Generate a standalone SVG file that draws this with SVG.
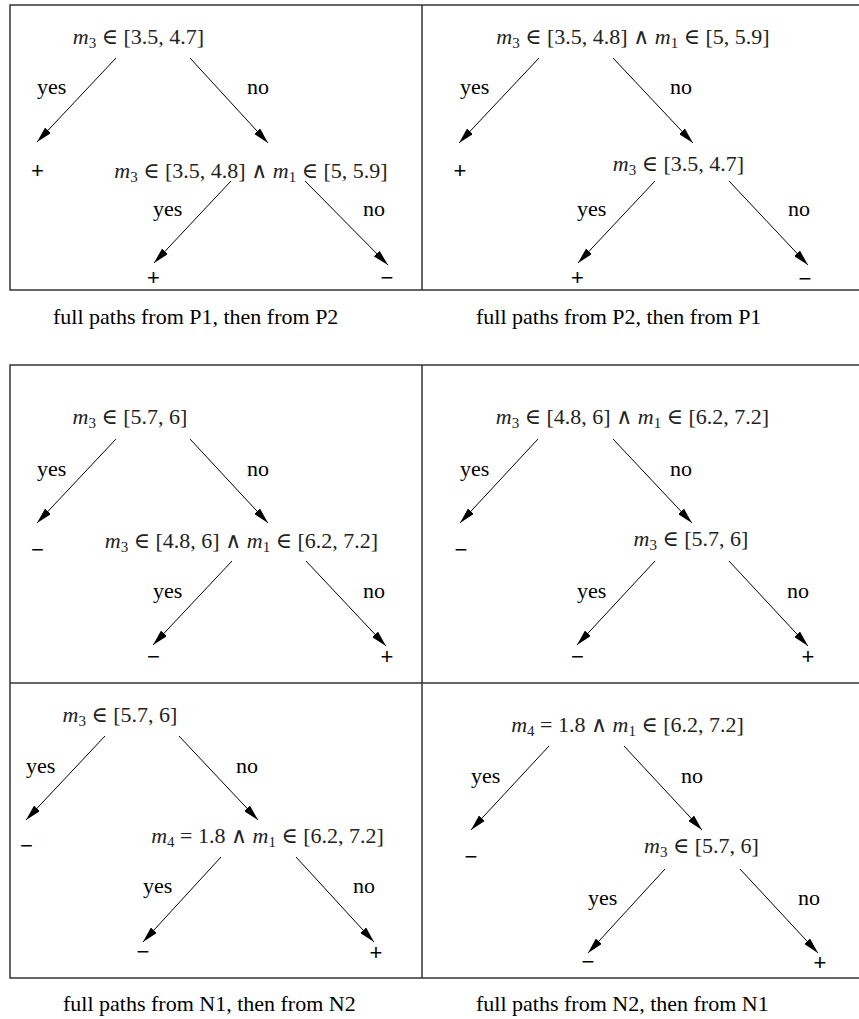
<svg xmlns="http://www.w3.org/2000/svg" width="859" height="1019" viewBox="0 0 859 1019">
<style>
.frame{fill:none;stroke:#333;stroke-width:1.5}
.edge{stroke:#000;stroke-width:1;fill:none;marker-end:url(#ah)}
.math{font-family:"Liberation Serif","DejaVu Serif",serif;font-size:22px;fill:#222;text-anchor:middle}
.it{font-style:italic}
.sub{font-size:15px}
.lbl{font-family:"Liberation Serif",serif;font-size:22px;fill:#000}
.leaf{font-family:"Liberation Sans",sans-serif;font-size:22px;fill:#000;text-anchor:middle}
.cap{font-family:"Liberation Serif",serif;font-size:22px;fill:#000}
</style>
<defs>
<marker id="ah" viewBox="0 0 16 8" refX="16" refY="4" markerWidth="16" markerHeight="8" markerUnits="userSpaceOnUse" orient="auto">
<path d="M0,0 L16,4 L0,8 z" fill="#000"/>
</marker>
</defs>
<rect width="859" height="1019" fill="#fff"/>

<g id="frames">
<path class="frame" d="M859,5 H10 V290 H859 M422,5 V290"/>
<path class="frame" d="M859,365 H10 V978 H859 M10,683 H859 M422,365 V978"/>
</g>

<g id="connectors">
<!-- top-left -->
<line class="edge" x1="116" y1="58" x2="37" y2="142"/>
<line class="edge" x1="190" y1="58" x2="268" y2="143"/>
<line class="edge" x1="231" y1="181" x2="154" y2="263"/>
<line class="edge" x1="305" y1="181" x2="388" y2="265"/>
<!-- top-right -->
<line class="edge" x1="539" y1="58" x2="459" y2="143"/>
<line class="edge" x1="613" y1="58" x2="693" y2="143"/>
<line class="edge" x1="655" y1="181" x2="578" y2="263"/>
<line class="edge" x1="729" y1="181" x2="808" y2="265"/>
<!-- middle-left -->
<line class="edge" x1="116" y1="439" x2="37" y2="523"/>
<line class="edge" x1="190" y1="439" x2="268" y2="523"/>
<line class="edge" x1="232" y1="561" x2="153" y2="645"/>
<line class="edge" x1="306" y1="561" x2="386" y2="646"/>
<!-- middle-right -->
<line class="edge" x1="538" y1="439" x2="460" y2="523"/>
<line class="edge" x1="613" y1="439" x2="692" y2="523"/>
<line class="edge" x1="655" y1="561" x2="577" y2="645"/>
<line class="edge" x1="729" y1="561" x2="808" y2="646"/>
<!-- bottom-left -->
<line class="edge" x1="105" y1="736" x2="26" y2="820"/>
<line class="edge" x1="179" y1="736" x2="258" y2="820"/>
<line class="edge" x1="221" y1="857" x2="143" y2="942"/>
<line class="edge" x1="296" y1="857" x2="374" y2="942"/>
<!-- bottom-right -->
<line class="edge" x1="549" y1="746" x2="471" y2="830"/>
<line class="edge" x1="624" y1="746" x2="702" y2="830"/>
<line class="edge" x1="665" y1="869" x2="588" y2="953"/>
<line class="edge" x1="740" y1="869" x2="818" y2="953"/>
</g>

<g id="edge-labels">
<text class="lbl" x="37" y="94">yes</text><text class="lbl" x="247" y="94">no</text>
<text class="lbl" x="153" y="216">yes</text><text class="lbl" x="363" y="216">no</text>
<text class="lbl" x="460" y="94">yes</text><text class="lbl" x="670" y="94">no</text>
<text class="lbl" x="577" y="216">yes</text><text class="lbl" x="788" y="216">no</text>
<text class="lbl" x="37" y="476">yes</text><text class="lbl" x="247" y="476">no</text>
<text class="lbl" x="153" y="598">yes</text><text class="lbl" x="363" y="598">no</text>
<text class="lbl" x="460" y="476">yes</text><text class="lbl" x="670" y="476">no</text>
<text class="lbl" x="577" y="598">yes</text><text class="lbl" x="787" y="598">no</text>
<text class="lbl" x="26" y="773">yes</text><text class="lbl" x="236" y="773">no</text>
<text class="lbl" x="143" y="893">yes</text><text class="lbl" x="353" y="893">no</text>
<text class="lbl" x="471" y="783">yes</text><text class="lbl" x="681" y="783">no</text>
<text class="lbl" x="588" y="905">yes</text><text class="lbl" x="798" y="905">no</text>
</g>

<!-- top-left tree -->
<g id="tl-root"><text class="math" x="138.5" y="44"><tspan class="it">m</tspan><tspan class="sub" dy="4">3</tspan><tspan dy="-4"> ∈ [3.5, 4.7]</tspan></text></g>
<g id="tl-leaf1"><text class="leaf" x="37.5" y="177.5">+</text></g>
<g id="tl-node2"><text class="math" x="251" y="177.5"><tspan class="it">m</tspan><tspan class="sub" dy="4">3</tspan><tspan dy="-4"> ∈ [3.5, 4.8] ∧ </tspan><tspan class="it">m</tspan><tspan class="sub" dy="4">1</tspan><tspan dy="-4"> ∈ [5, 5.9]</tspan></text></g>
<g id="tl-leaf2"><text class="leaf" x="153.5" y="284.5">+</text></g>
<g id="tl-leaf3"><text class="leaf" x="387" y="285">−</text></g>

<!-- top-right tree -->
<g id="tr-root"><text class="math" x="633" y="44"><tspan class="it">m</tspan><tspan class="sub" dy="4">3</tspan><tspan dy="-4"> ∈ [3.5, 4.8] ∧ </tspan><tspan class="it">m</tspan><tspan class="sub" dy="4">1</tspan><tspan dy="-4"> ∈ [5, 5.9]</tspan></text></g>
<g id="tr-leaf1"><text class="leaf" x="460" y="177.5">+</text></g>
<g id="tr-node2"><text class="math" x="678.5" y="171"><tspan class="it">m</tspan><tspan class="sub" dy="4">3</tspan><tspan dy="-4"> ∈ [3.5, 4.7]</tspan></text></g>
<g id="tr-leaf2"><text class="leaf" x="577.5" y="284.5">+</text></g>
<g id="tr-leaf3"><text class="leaf" x="805" y="285.5">−</text></g>

<!-- middle-left tree -->
<g id="ml-root"><text class="math" x="130" y="423.5"><tspan class="it">m</tspan><tspan class="sub" dy="4">3</tspan><tspan dy="-4"> ∈ [5.7, 6]</tspan></text></g>
<g id="ml-leaf1"><text class="leaf" x="37.5" y="556.5">−</text></g>
<g id="ml-node2"><text class="math" x="241.5" y="547.5"><tspan class="it">m</tspan><tspan class="sub" dy="4">3</tspan><tspan dy="-4"> ∈ [4.8, 6] ∧ </tspan><tspan class="it">m</tspan><tspan class="sub" dy="4">1</tspan><tspan dy="-4"> ∈ [6.2, 7.2]</tspan></text></g>
<g id="ml-leaf2"><text class="leaf" x="153.5" y="663.5">−</text></g>
<g id="ml-leaf3"><text class="leaf" x="387" y="663.5">+</text></g>

<!-- middle-right tree -->
<g id="mr-root"><text class="math" x="632.5" y="423.5"><tspan class="it">m</tspan><tspan class="sub" dy="4">3</tspan><tspan dy="-4"> ∈ [4.8, 6] ∧ </tspan><tspan class="it">m</tspan><tspan class="sub" dy="4">1</tspan><tspan dy="-4"> ∈ [6.2, 7.2]</tspan></text></g>
<g id="mr-leaf1"><text class="leaf" x="461" y="556.5">−</text></g>
<g id="mr-node2"><text class="math" x="691" y="545.5"><tspan class="it">m</tspan><tspan class="sub" dy="4">3</tspan><tspan dy="-4"> ∈ [5.7, 6]</tspan></text></g>
<g id="mr-leaf2"><text class="leaf" x="577.5" y="663.5">−</text></g>
<g id="mr-leaf3"><text class="leaf" x="808" y="663.5">+</text></g>

<!-- bottom-left tree -->
<g id="bl-root"><text class="math" x="120" y="721.5"><tspan class="it">m</tspan><tspan class="sub" dy="4">3</tspan><tspan dy="-4"> ∈ [5.7, 6]</tspan></text></g>
<g id="bl-leaf1"><text class="leaf" x="26.5" y="852.5">−</text></g>
<g id="bl-node2"><text class="math" x="267.5" y="842.5"><tspan class="it">m</tspan><tspan class="sub" dy="4">4</tspan><tspan dy="-4"> = 1.8 ∧ </tspan><tspan class="it">m</tspan><tspan class="sub" dy="4">1</tspan><tspan dy="-4"> ∈ [6.2, 7.2]</tspan></text></g>
<g id="bl-leaf2"><text class="leaf" x="143" y="959">−</text></g>
<g id="bl-leaf3"><text class="leaf" x="376" y="960">+</text></g>

<!-- bottom-right tree -->
<g id="br-root"><text class="math" x="627.5" y="731.5"><tspan class="it">m</tspan><tspan class="sub" dy="4">4</tspan><tspan dy="-4"> = 1.8 ∧ </tspan><tspan class="it">m</tspan><tspan class="sub" dy="4">1</tspan><tspan dy="-4"> ∈ [6.2, 7.2]</tspan></text></g>
<g id="br-leaf1"><text class="leaf" x="471" y="864">−</text></g>
<g id="br-node2"><text class="math" x="701.5" y="852.5"><tspan class="it">m</tspan><tspan class="sub" dy="4">3</tspan><tspan dy="-4"> ∈ [5.7, 6]</tspan></text></g>
<g id="br-leaf2"><text class="leaf" x="588" y="969">−</text></g>
<g id="br-leaf3"><text class="leaf" x="820" y="970">+</text></g>

<g id="captions">
<text class="cap" x="53" y="324">full paths from P1, then from P2</text>
<text class="cap" x="476" y="324">full paths from P2, then from P1</text>
<text class="cap" x="63" y="1011">full paths from N1, then from N2</text>
<text class="cap" x="476" y="1011">full paths from N2, then from N1</text>
</g>
</svg>
